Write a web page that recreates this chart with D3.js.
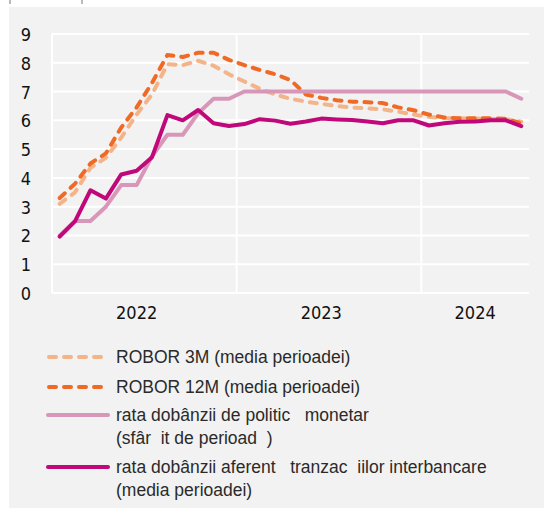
<!DOCTYPE html>
<html><head><meta charset="utf-8">
<script src="https://cdn.jsdelivr.net/npm/d3@7"></script>
<style>html,body{margin:0;padding:0;background:#fff;}svg{display:block;}</style>
</head><body>
<svg id="c" width="544" height="508"></svg>
<script>
const months = ["ian.22","feb.22","mar.22","apr.22","mai.22","iun.22","iul.22","aug.22","sep.22","oct.22","nov.22","dec.22",
  "ian.23","feb.23","mar.23","apr.23","mai.23","iun.23","iul.23","aug.23","sep.23","oct.23","nov.23","dec.23",
  "ian.24","feb.24","mar.24","apr.24","mai.24","iun.24","iul.24"];
const robor3m  = [3.10,3.50,4.35,4.70,5.40,6.20,6.90,7.95,7.92,8.07,7.90,7.60,7.35,7.10,6.90,6.75,6.65,6.57,6.50,6.44,6.42,6.38,6.30,6.20,6.12,6.07,6.07,6.06,6.05,6.04,5.95];
const robor12m = [3.30,3.80,4.50,4.85,5.75,6.45,7.30,8.27,8.20,8.35,8.35,8.10,7.92,7.75,7.60,7.40,6.90,6.78,6.70,6.65,6.63,6.60,6.45,6.35,6.20,6.10,6.07,6.07,6.07,6.05,5.90];
const policy   = [2.00,2.50,2.50,3.00,3.75,3.75,4.75,5.50,5.50,6.25,6.75,6.75,7.00,7.00,7.00,7.00,7.00,7.00,7.00,7.00,7.00,7.00,7.00,7.00,7.00,7.00,7.00,7.00,7.00,7.00,6.75];
const interbank= [1.96,2.50,3.57,3.28,4.12,4.25,4.72,6.18,6.00,6.36,5.90,5.80,5.87,6.04,5.99,5.88,5.96,6.06,6.03,6.01,5.96,5.90,6.00,6.00,5.82,5.90,5.95,5.96,6.00,6.00,5.80];
const yTicks = [0,1,2,3,4,5,6,7,8,9];
const yearLabels = ["2022","2023","2024"];
const yearLabelAt = ["iun.22","iun.23","apr.24"];
const yearStarts = ["ian.22","ian.23","ian.24"];
const legendNames = [
  ["ROBOR 3M (media perioadei)"],
  ["ROBOR 12M (media perioadei)"],
  ["rata dobânzii de politic\u00A0\u00A0\u00A0monetar","(sfâr\u00A0\u00A0it de perioad\u00A0\u00A0)"],
  ["rata dobânzii aferent\u00A0\u00A0\u00A0tranzac\u00A0\u00A0iilor interbancare","(media perioadei)"]
];

const svg = d3.select("#c");
svg.append("rect").attr("x",9).attr("y",7).attr("width",535).attr("height",501).attr("fill","#f2f2f2");
[10,82].forEach(x=>svg.append("line").attr("x1",x).attr("x2",x).attr("y1",0).attr("y2",4).attr("stroke","#777").attr("stroke-width",1));

const x = d3.scaleBand().domain(months).range([52,529]).padding(0);
const y = d3.scaleLinear().domain([0,9]).range([293,34]);
const xc = m => x(m) + x.bandwidth()/2;

const g = svg.append("g");
g.selectAll("line.h").data(yTicks).join("line")
  .attr("x1",52).attr("x2",529).attr("y1",d=>y(d)).attr("y2",d=>y(d))
  .attr("stroke","#fff").attr("stroke-width",2);
g.selectAll("line.v").data(yearStarts).join("line").attr("class","v")
  .attr("x1",d=>x(d)).attr("x2",d=>x(d)).attr("y1",y(9)).attr("y2",y(0))
  .attr("stroke","#fff").attr("stroke-width",2);

const axisFont = "'DejaVu Sans Condensed','Liberation Sans Narrow','DejaVu Sans',sans-serif";
const yAxis = d3.axisLeft(y).tickValues(yTicks).tickSize(0).tickPadding(0).tickFormat(d3.format("d"));
const ya = svg.append("g").attr("transform","translate(31,0)").call(yAxis);
ya.select(".domain").remove();
ya.selectAll("text").attr("font-family",axisFont).style("font-stretch","condensed")
  .attr("font-size",18).attr("fill","#111").attr("text-anchor","end").attr("dy","0.36em");

const xAxis = d3.axisBottom(x).tickValues(yearLabelAt).tickSize(0).tickPadding(0)
  .tickFormat(m=>yearLabels[yearLabelAt.indexOf(m)]);
const xa = svg.append("g").attr("transform","translate(0,306)").call(xAxis);
xa.select(".domain").remove();
xa.selectAll("text").attr("font-family",axisFont).style("font-stretch","condensed")
  .attr("font-size",18).attr("fill","#111").attr("dy","0.72em");

const series = [
  {vals:robor3m, color:"#f4b48a", dash:"7,8"},
  {vals:robor12m, color:"#f06a26", dash:"7,8"},
  {vals:policy, color:"#d897b9", dash:null},
  {vals:interbank, color:"#c0087a", dash:null}
];
const line = d3.line().x((d,i)=>xc(months[i])).y(d=>y(d));
series.forEach(s=>{
  const p = svg.append("path").attr("d",line(s.vals)).attr("fill","none")
    .attr("stroke",s.color).attr("stroke-width",4).attr("stroke-linejoin","round").attr("stroke-linecap","round");
  if(s.dash) p.attr("stroke-dasharray",s.dash);
});

const legY = [357,387,415,467];
legendNames.forEach((lines,i)=>{
  const s = series[i];
  const l = svg.append("line").attr("x1",s.dash?49:48).attr("x2",s.dash?103:108)
    .attr("y1",legY[i]).attr("y2",legY[i]).attr("stroke",s.color).attr("stroke-width",4)
    .attr("stroke-linecap","round");
  if(s.dash) l.attr("stroke-dasharray",s.dash);
  lines.forEach((t,j)=>{
    svg.append("text").attr("x",116).attr("y",legY[i]+j*23).attr("dy","0.35em")
      .attr("font-family","'Liberation Sans',Arial,sans-serif").attr("font-size",17.5)
      .attr("fill","#2a2a2a").text(t);
  });
});
</script>
</body></html>
